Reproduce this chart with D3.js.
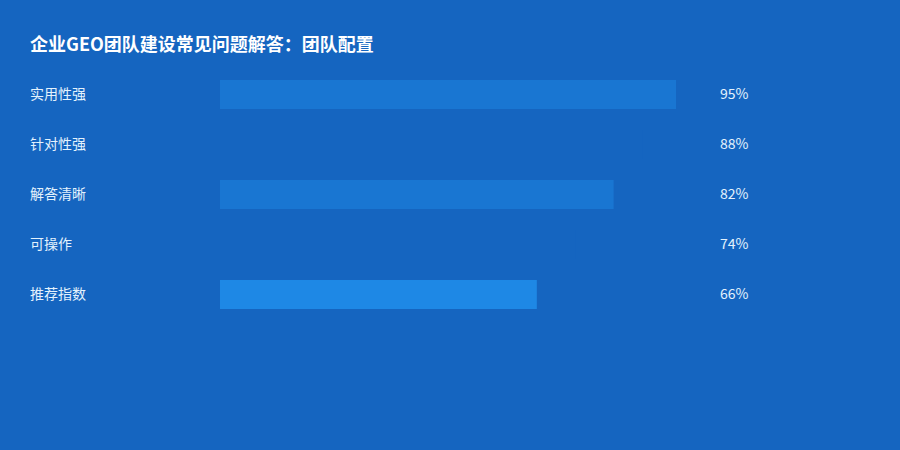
<!DOCTYPE html>
<html>
<head>
<meta charset="utf-8">
<script src="https://cdn.jsdelivr.net/npm/d3@7"></script>
<style>
    body { margin: 0; background: #1565C0; }
    text { font-family: "Noto Sans CJK SC", "Noto Sans", sans-serif; }
</style>
</head>
<body>
<svg class="visSVG"></svg>
<script>
const svgWidth = 900;
const svgHeight = 450;

// data
var categories = ["实用性强", "针对性强", "解答清晰", "可操作", "推荐指数"];
var values = [95, 88, 82, 74, 66];
var barColours = ["#1976D2", "#1565C0", "#1976D2", "#1565C0", "#1E88E5"];
var titleText = "企业GEO团队建设常见问题解答：团队配置";

var margin = {
    top: 80,
    left: 220,
    labelLeft: 30
}

var barMax = 480; // width of a 100% bar
var rowStep = 50;
var gap = 0.42; // space between bars, as part of a row

const svg = d3.select('.visSVG')
    .attr("width", svgWidth)
    .attr("height", svgHeight);

svg.append("rect")
    .attr("width", svgWidth)
    .attr("height", svgHeight)
    .attr("fill", "#1565C0");

// title
svg.append("text")
    .text(titleText)
    .attr("x", 30)
    .attr("y", 51)
    .attr("fill", "#ffffff")
    .attr("font-size", 18)
    .attr("font-weight", "bold");

const xScale = d3.scaleLinear()
    .domain([0, 100])
    .range([margin.left, margin.left + barMax]);

// step comes out at rowStep with no outer padding
const yScale = d3.scaleBand()
    .domain(categories)
    .range([margin.top, margin.top + rowStep * (categories.length - gap)])
    .paddingInner(gap)
    .paddingOuter(0);

var rows = svg.append("g")
    .selectAll("g")
    .data(categories)
    .enter().append("g");

// bars
rows.append("rect")
    .attr("x", xScale(0))
    .attr("y", function(d) { return yScale(d); })
    .attr("width", function(d, i) { return xScale(values[i]) - xScale(0); })
    .attr("height", yScale.bandwidth())
    .attr("fill", function(d, i) { return barColours[i]; });

// category labels
rows.append("text")
    .text(function(d) { return d; })
    .attr("x", margin.labelLeft)
    .attr("y", function(d) { return yScale(d) + yScale.bandwidth() / 2; })
    .attr("dy", "0.35em")
    .attr("fill", "#E3F2FD")
    .attr("font-size", 14);

// value labels
rows.append("text")
    .text(function(d, i) { return values[i] + "%"; })
    .attr("x", xScale(100) + 20)
    .attr("y", function(d) { return yScale(d) + yScale.bandwidth() / 2; })
    .attr("dy", "0.35em")
    .attr("fill", "#E3F2FD")
    .attr("font-size", 14);
</script>
</body>
</html>
